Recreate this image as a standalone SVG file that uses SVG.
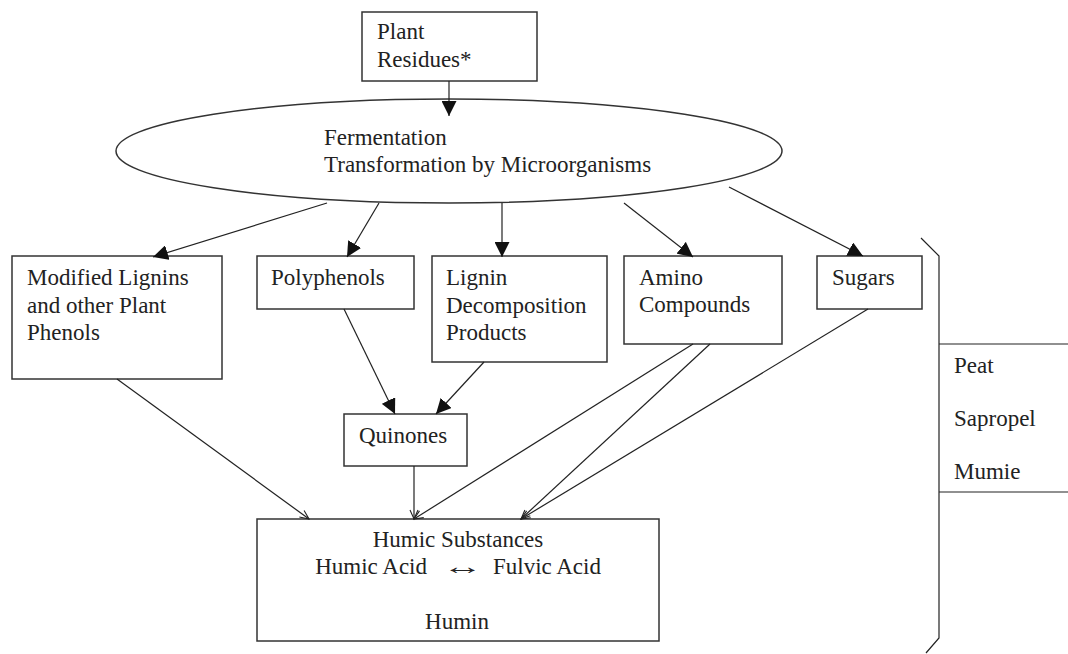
<svg xmlns="http://www.w3.org/2000/svg" width="1068" height="654" viewBox="0 0 1068 654">
  <style>
    .box { fill: #fff; stroke: #333; stroke-width: 1.5; }
    .t { font-family: "Liberation Serif", "Times New Roman", serif; font-size: 23px; fill: #222; }
    .c { text-anchor: middle; }
    .e { text-anchor: end; }
    .line { fill: none; stroke: #222; stroke-width: 1.2; }
  </style>
  <defs>
    <marker id="filled" viewBox="0 0 15 15" refX="15" refY="7.5" markerWidth="15" markerHeight="15" orient="auto" markerUnits="userSpaceOnUse">
      <path d="M0,0 L15,7.5 L0,15 z" fill="#111"/>
    </marker>
    <marker id="open" viewBox="0 0 10 10" refX="9" refY="5" markerWidth="10" markerHeight="10" orient="auto" markerUnits="userSpaceOnUse" overflow="visible">
      <path d="M0,1 L9,5 L0,9" fill="none" stroke="#222" stroke-width="1.1"/>
    </marker>
  </defs>
  <rect width="1068" height="654" fill="#fff"/>

  <g id="plant-residues">
    <rect class="box" x="362" y="12" width="175" height="69"/>
    <text class="t" x="377" y="39">Plant</text>
    <text class="t" x="377" y="67">Residues*</text>
  </g>

  <g id="fermentation">
    <ellipse class="box" cx="449" cy="151" rx="333" ry="52"/>
    <text class="t" x="324" y="145">Fermentation</text>
    <text class="t" x="324" y="172">Transformation by Microorganisms</text>
  </g>

  <g id="modified-lignins">
    <rect class="box" x="12" y="256" width="210" height="123"/>
    <text class="t" x="27" y="285">Modified Lignins</text>
    <text class="t" x="27" y="313">and other Plant</text>
    <text class="t" x="27" y="340">Phenols</text>
  </g>

  <g id="polyphenols">
    <rect class="box" x="257" y="256" width="157" height="53"/>
    <text class="t" x="271" y="285">Polyphenols</text>
  </g>

  <g id="lignin-decomposition">
    <rect class="box" x="432" y="256" width="175" height="106"/>
    <text class="t" x="446" y="285">Lignin</text>
    <text class="t" x="446" y="313">Decomposition</text>
    <text class="t" x="446" y="340">Products</text>
  </g>

  <g id="amino-compounds">
    <rect class="box" x="624" y="256" width="158" height="88"/>
    <text class="t" x="639" y="285">Amino</text>
    <text class="t" x="639" y="312">Compounds</text>
  </g>

  <g id="sugars">
    <rect class="box" x="817" y="256" width="105" height="53"/>
    <text class="t" x="832" y="285">Sugars</text>
  </g>

  <g id="quinones">
    <rect class="box" x="344" y="414" width="123" height="52"/>
    <text class="t" x="359" y="443">Quinones</text>
  </g>

  <g id="humic-substances">
    <rect class="box" x="257" y="519" width="402" height="122"/>
    <text class="t c" x="458" y="547">Humic Substances</text>
    <text class="t e" x="427" y="574">Humic Acid</text>
    <text class="t c" transform="translate(463,574) scale(1.8,1)">↔</text>
    <text class="t" x="493" y="574">Fulvic Acid</text>
    <text class="t c" x="457" y="629">Humin</text>
  </g>

  <g id="peat-group">
    <path class="line" d="M921,238 L939,256 L939,638 L926,653" stroke="#333" stroke-width="1.5"/>
    <line class="line" x1="939" y1="344" x2="1068" y2="344" stroke="#444" stroke-width="1.5"/>
    <line class="line" x1="939" y1="492" x2="1068" y2="492" stroke="#444" stroke-width="1.5"/>
    <text class="t" x="954" y="373">Peat</text>
    <text class="t" x="954" y="426">Sapropel</text>
    <text class="t" x="954" y="479">Mumie</text>
  </g>

  <g id="connectors">
    <line class="line" x1="449" y1="81" x2="449" y2="116" marker-end="url(#filled)"/>
    <line class="line" x1="327" y1="203" x2="153" y2="257" marker-end="url(#filled)"/>
    <line class="line" x1="379" y1="203" x2="347" y2="257" marker-end="url(#filled)"/>
    <line class="line" x1="502" y1="203" x2="502" y2="257" marker-end="url(#filled)"/>
    <line class="line" x1="624" y1="203" x2="693" y2="257" marker-end="url(#filled)"/>
    <line class="line" x1="729" y1="187" x2="863" y2="256" marker-end="url(#filled)"/>
    <line class="line" x1="344" y1="309" x2="395" y2="414" marker-end="url(#filled)"/>
    <line class="line" x1="484" y1="362" x2="436" y2="414" marker-end="url(#filled)"/>
    <line class="line" x1="117" y1="379" x2="309" y2="519" marker-end="url(#open)"/>
    <line class="line" x1="414" y1="466" x2="414" y2="519" marker-end="url(#open)"/>
    <line class="line" x1="693" y1="344" x2="414" y2="519" marker-end="url(#open)"/>
    <line class="line" x1="710" y1="344" x2="521" y2="519" marker-end="url(#open)"/>
    <line class="line" x1="868" y1="309" x2="521" y2="519" marker-end="url(#open)"/>
  </g>
</svg>
